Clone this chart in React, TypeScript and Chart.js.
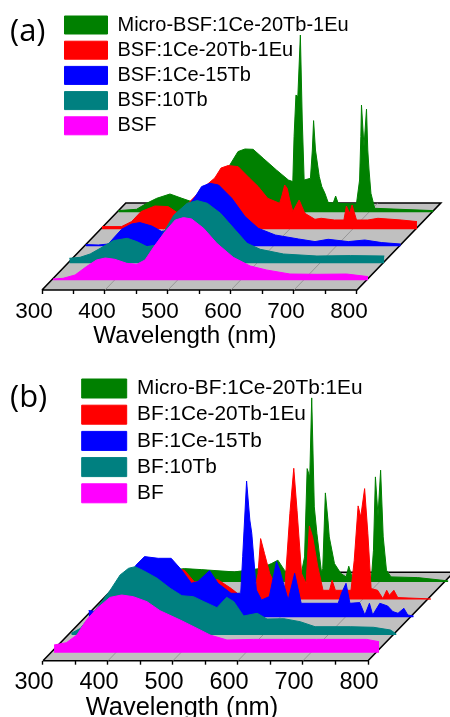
import React, { useEffect, useRef } from "react";
import { Chart, registerables } from "chart.js";

Chart.register(...registerables);

// ---------- shared ----------
const tickValues = [300, 350, 400, 450, 500, 550, 600, 650, 700, 750, 800];
const axisTitle = "Wavelength (nm)";
const seriesColors = ["#ff00ff", "#008080", "#0000ff", "#ff0000", "#008000"];
const floorColor = "#c0c0c0";
const floorGridLines = [400, 500, 600, 700];

// ---------- panel (a) ----------
const aLabels = ["BSF", "BSF:10Tb", "BSF:1Ce-15Tb", "BSF:1Ce-20Tb-1Eu", "Micro-BSF:1Ce-20Tb-1Eu"];
const aMagentaWl = [300, 316, 335, 353, 369, 383, 398, 417, 433, 446, 462, 478, 494, 507, 520, 539, 560, 586, 613, 639, 676, 719, 766, 800];
const aMagentaI = [1.3, 2, 5.3, 13.7, 20.3, 22.3, 21, 17, 16, 20.3, 35.3, 48.7, 60.3, 62.7, 61.3, 52, 37, 23, 14.3, 10.3, 6.3, 6, 6.3, 3.7];
const aTealWl = [300, 317, 333, 349, 370, 392, 407, 423, 439, 452, 466, 487, 503, 519, 540, 561, 582, 603, 640, 693, 746, 800];
const aTealI = [5, 6, 9.3, 15, 22.7, 25, 21.7, 16.7, 18.3, 33.3, 48.3, 60, 62.7, 60, 50, 35, 20, 14, 9.3, 7.3, 7.7, 7.3];
const aBlueWl = [300, 320, 336, 344, 357, 373, 386, 405, 421, 437, 458, 474, 484, 497, 511, 532, 553, 574, 601, 638, 664, 685, 717, 743, 770, 800];
const aBlueI = [1.7, 1.3, 2.3, 8, 17, 22.3, 23.7, 20.3, 14.7, 18, 36.3, 49.7, 59.7, 63, 61.3, 48, 29.7, 18, 11.3, 7.3, 4.7, 7, 4.7, 6.3, 3.7, 2.3];
const aRedWl = [300, 331, 347, 362, 384, 405, 421, 442, 463, 479, 489, 500, 516, 534, 548, 563, 582, 586, 590, 594, 598, 603, 613, 622, 638, 648, 669, 684, 688, 693, 697, 704, 722, 738, 775, 800];
const aRedI = [2.7, 2.7, 7.7, 17.7, 23.3, 22.7, 16, 29.3, 42.7, 51.3, 61.3, 63.7, 62.7, 51.3, 42.7, 31, 26, 34.3, 44.3, 41, 29.3, 17.7, 29.3, 16, 10, 11, 9.3, 9.3, 23.3, 16, 24.3, 9.3, 9.3, 11, 9.3, 7.7];
const aGreenWl = [300, 329, 345, 361, 382, 401, 416, 440, 477, 490, 501, 514, 530, 551, 570, 577, 579, 582, 585, 589, 592, 595, 605, 608, 610, 613, 619, 623, 628, 633, 641, 645, 649, 678, 683, 685, 686, 690, 694, 696, 698, 701, 707, 747, 800];
const aGreenI = [1.7, 3, 9, 14, 18.3, 14, 10.7, 19, 47.3, 60.7, 63.3, 63, 54, 42.3, 32.3, 30.7, 75.7, 117.3, 115.7, 177.3, 92.3, 32.3, 34, 62.3, 91.7, 62.3, 35.7, 25.7, 19, 10, 9, 16.3, 9, 8.3, 32.3, 75.7, 107.3, 65.7, 103.3, 62.3, 42.3, 19, 4, 3, 1.7];

// ---------- panel (b) ----------
const bLabels = ["BF", "BF:10Tb", "BF:1Ce-15Tb", "BF:1Ce-20Tb-1Eu", "Micro-BF:1Ce-20Tb:1Eu"];
const bMagentaWl = [300, 319, 335, 350, 366, 386, 404, 422, 443, 463, 494, 520, 540, 566, 607, 653, 704, 755, 781, 800];
const bMagentaI = [7.7, 10, 17.7, 32.7, 44.3, 55.3, 57.7, 56, 51, 42, 32.7, 24.3, 17.7, 12.7, 13.3, 13.3, 13.3, 13.3, 13.3, 11];
const bTealWl = [300, 314, 345, 360, 375, 388, 398, 411, 432, 452, 470, 488, 504, 524, 539, 550, 565, 586, 601, 627, 652, 675, 729, 765, 791, 800];
const bTealI = [1.7, 6.7, 31.7, 45, 60, 66.7, 68.3, 64.3, 56.7, 46.7, 39.3, 38.3, 33.3, 27.3, 37.7, 33.3, 19, 21.7, 16, 16.3, 13.3, 8.3, 8.3, 7.7, 5, 1];
const bBlueWl = [300, 312, 330, 350, 373, 386, 407, 427, 443, 458, 468, 486, 499, 519, 534, 537, 543, 548, 551, 558, 566, 578, 589, 594, 607, 617, 627, 684, 689, 696, 702, 717, 725, 732, 737, 748, 760, 768, 776, 785, 791, 800];
const bBlueI = [6.7, 5.7, 9, 27, 52.3, 60.7, 59, 59, 47.3, 34, 35.7, 46.7, 34, 24, 24, 60.7, 136.3, 97.3, 84, 27.3, 17.3, 20.7, 55.7, 47.3, 17.3, 44, 14, 14, 24, 34, 14, 14.7, 2.3, 14, 2.3, 14, 11.3, 5.7, 4, 9, 2.3, 1.3];
const bRedWl = [300, 324, 354, 380, 401, 421, 436, 472, 493, 506, 529, 534, 538, 544, 552, 565, 575, 583, 589, 594, 601, 608, 613, 618, 626, 634, 644, 648, 653, 677, 682, 688, 692, 698, 703, 708, 718, 726, 732, 736, 743, 749, 800];
const bRedI = [1, 6, 20, 30, 32, 29.3, 17.7, 20, 11, 4.3, 9.3, 26, 61, 46, 26, 9.3, 9.3, 86, 131.3, 89.3, 26, 16, 73.7, 62.7, 32.7, 9.3, 9.3, 19.3, 9.3, 9.3, 39.3, 93.7, 82.7, 111, 66, 11, 9.3, 1, 9.3, 4.3, 9.3, 2, 0.7];
const bGreenWl = [300, 328, 353, 379, 394, 420, 471, 510, 528, 538, 548, 564, 574, 579, 583, 587, 590, 594, 598, 605, 607, 611, 615, 617, 625, 635, 643, 647, 652, 682, 685, 688, 692, 696, 700, 705, 712, 753, 800];
const bGreenI = [1, 2, 8, 12, 13.3, 12.3, 10, 13.3, 18.3, 21.7, 11.7, 3.3, 8.3, 25, 113.3, 105, 184, 75, 48.3, 10, 13.3, 89, 61.7, 45, 18.3, 8.3, 5, 15.7, 5, 5, 31.7, 105, 66, 111.7, 45, 11.7, 5, 4.3, 1];

type PanelCfg = {
  tag: string;
  labels: string[];
  wl: number[][];
  values: number[][];
  canvasTop: number;
  canvasHeight: number;
  axisY: number;
  pxPerNm: number;
  originPx: number;
  baseShift: number;
  baseRise: number;
  stepShift: number;
  stepRise: number;
  floorShift: number;
  floorRise: number;
  legendX: number;
  legendY: number;
  boxW: number;
  boxH: number;
  legendFont: number;
  legendGap: number;
  tickFont: number;
  tickLabelOffset: number;
  tickPad: number;
  titleFont: number;
  titleCenter: number;
  titlePadBottom: number;
  tagTop: number;
};

const panelA: PanelCfg = {
  tag: "(a)",
  labels: aLabels,
  wl: [aMagentaWl, aTealWl, aBlueWl, aRedWl, aGreenWl],
  values: [aMagentaI, aTealI, aBlueI, aRedI, aGreenI],
  canvasTop: 0,
  canvasHeight: 355,
  axisY: 290,
  pxPerNm: 0.63,
  originPx: 42,
  baseShift: 17.5,
  baseRise: 9.7,
  stepShift: 25.9,
  stepRise: 17,
  floorShift: 133,
  floorRise: 87,
  legendX: 64.5,
  legendY: 15,
  boxW: 43,
  boxH: 18,
  legendFont: 20,
  legendGap: 5.2,
  tickFont: 22.5,
  tickLabelOffset: -8,
  tickPad: 4,
  titleFont: 24.2,
  titleCenter: 185,
  titlePadBottom: 4,
  tagTop: 14,
};

const panelB: PanelCfg = {
  tag: "(b)",
  labels: bLabels,
  wl: [bMagentaWl, bTealWl, bBlueWl, bRedWl, bGreenWl],
  values: [bMagentaI, bTealI, bBlueI, bRedI, bGreenI],
  canvasTop: 355,
  canvasHeight: 362,
  axisY: 305.7,
  pxPerNm: 0.65,
  originPx: 43,
  baseShift: 17,
  baseRise: 8,
  stepShift: 26.6,
  stepRise: 17.7,
  floorShift: 132,
  floorRise: 88.4,
  legendX: 81.7,
  legendY: 23.1,
  boxW: 45,
  boxH: 19,
  legendFont: 20.8,
  legendGap: 5.4,
  tickFont: 23.5,
  tickLabelOffset: -9,
  tickPad: 4,
  titleFont: 25.4,
  titleCenter: 182,
  titlePadBottom: -6,
  tagTop: 25,
};

const FONT = "'Liberation Sans', Arial, sans-serif";
const TAG_FONT = 31;

function buildDatasets(p: PanelCfg) {
  const series = p.labels.map((label, k) => {
    const dx = p.baseShift + k * p.stepShift;
    const rise = p.baseRise + k * p.stepRise;
    return {
      label,
      data: p.wl[k].map((w, i) => ({ x: w + dx, y: p.values[k][i] + rise })),
      borderColor: seriesColors[k],
      backgroundColor: seriesColors[k],
      borderWidth: 1,
      pointRadius: 0,
      tension: 0,
      fill: { value: rise },
      clip: false,
    };
  });
  const first = tickValues[0];
  const last = tickValues[tickValues.length - 1];
  const grid = {
    label: "grid",
    data: floorGridLines.flatMap((w) => [
      { x: w, y: 0 },
      { x: w + p.floorShift, y: p.floorRise },
      { x: w, y: null as any },
    ]),
    borderColor: "#8c8c8c",
    borderWidth: 0.8,
    pointRadius: 0,
    fill: false,
    clip: false,
  };
  const floor = {
    label: "floor",
    data: [
      { x: first, y: 0 },
      { x: last, y: 0 },
      { x: last + p.floorShift, y: p.floorRise },
      { x: first + p.floorShift, y: p.floorRise },
      { x: first, y: 0 },
    ],
    borderColor: "#000000",
    backgroundColor: floorColor,
    borderWidth: 1.6,
    pointRadius: 0,
    fill: "shape",
    clip: false,
  };
  return [...series, grid, floor];
}

function Panel({ cfg, width }: { cfg: PanelCfg; width: number }) {
  const ref = useRef<HTMLCanvasElement | null>(null);
  useEffect(() => {
    if (!ref.current) return;
    const xMin = tickValues[0] - cfg.originPx / cfg.pxPerNm;
    const xMax = xMin + width / cfg.pxPerNm;
    const placePlugin = {
      id: "placeBlocks",
      afterLayout(chart: any) {
        const lg = chart.legend;
        const pad = cfg.legendGap;
        lg.left = cfg.legendX - pad;
        lg.top = cfg.legendY - pad;
        lg.right = width;
        lg.bottom = cfg.canvasHeight;
        lg.width = lg.right - lg.left;
        lg.height = lg.bottom - lg.top;
        const tb = chart.titleBlock;
        tb.left = 10;
        tb.right = 120;
        tb.width = 110;
        tb.top = cfg.tagTop;
        const xs = chart.scales.x;
        xs.right = cfg.titleCenter * 2 - xs.left;
      },
    };
    const chart = new Chart(ref.current, {
      type: "line",
      data: { datasets: buildDatasets(cfg) as any },
      plugins: [placePlugin],
      options: {
        animation: false,
        responsive: false,
        events: [],
        layout: { padding: 0 },
        plugins: {
          tooltip: { enabled: false },
          title: {
            display: true,
            text: cfg.tag,
            align: "start",
            color: "#000000",
            font: { family: "'Open Sans', sans-serif", size: TAG_FONT, weight: "normal", lineHeight: 1.2 },
            padding: { top: 0, bottom: -TAG_FONT * 1.2 },
          },
          legend: {
            display: true,
            position: "chartArea" as any,
            align: "start",
            reverse: true,
            labels: {
              boxWidth: cfg.boxW,
              boxHeight: cfg.boxH,
              padding: cfg.legendGap,
              color: "#000000",
              font: { family: FONT, size: cfg.legendFont },
              filter: (item: any) => item.datasetIndex < 5,
            },
          },
        },
        scales: {
          x: {
            type: "linear",
            min: xMin,
            max: xMax,
            offset: false,
            afterBuildTicks: (s: any) => {
              s.ticks = tickValues.map((value) => ({ value }));
            },
            afterFit: (s: any) => {
              s.height = cfg.canvasHeight - cfg.axisY;
            },
            border: { display: false },
            grid: {
              drawOnChartArea: false,
              drawTicks: true,
              tickLength: 4,
              tickColor: "#000000",
              tickWidth: 1.4,
            },
            ticks: {
              autoSkip: false,
              maxRotation: 0,
              minRotation: 0,
              padding: cfg.tickPad,
              labelOffset: cfg.tickLabelOffset,
              color: "#000000",
              font: { family: FONT, size: cfg.tickFont },
              callback: (v: any) => (Number(v) % 100 === 0 ? String(v) : ""),
            },
            title: {
              display: true,
              text: axisTitle,
              color: "#000000",
              font: { family: FONT, size: cfg.titleFont, lineHeight: 1.2 },
              padding: { top: 0, bottom: cfg.titlePadBottom },
            },
          },
          y: {
            type: "linear",
            display: false,
            min: 0,
            max: cfg.axisY,
          },
        },
      } as any,
    });
    return () => chart.destroy();
  }, [cfg, width]);
  return (
    <canvas
      ref={ref}
      width={width}
      height={cfg.canvasHeight}
      style={{ position: "absolute", left: 0, top: cfg.canvasTop, width, height: cfg.canvasHeight, display: "block" }}
    />
  );
}

export default function App() {
  return (
    <div style={{ position: "absolute", left: 0, top: 0, width: 450, height: 717, overflow: "hidden", background: "#ffffff" }}>
      <Panel cfg={panelA} width={450} />
      <Panel cfg={panelB} width={450} />
    </div>
  );
}
